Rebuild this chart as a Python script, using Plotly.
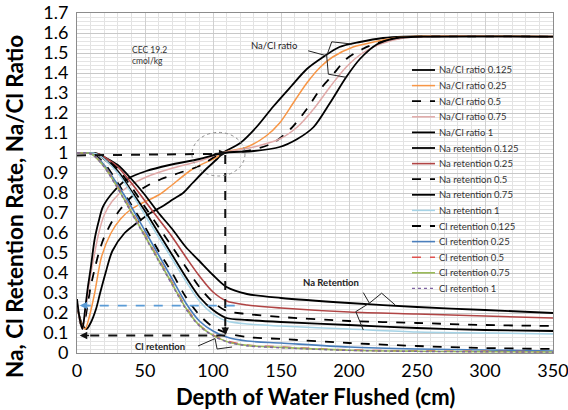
import plotly.graph_objects as go

# ---------------- data ----------------
# Na/Cl ratio curves (x = depth of water flushed, cm)
ratio_0125_x = [0, 4, 7, 10, 14, 17, 21, 26, 35, 44, 54, 62, 71, 78, 85, 95, 103, 107, 120, 132, 144, 157, 169, 181, 193, 208, 225, 240, 350]
ratio_0125_y = [0.23, 0.14, 0.12, 0.15, 0.22, 0.30, 0.40, 0.51, 0.60, 0.65, 0.70, 0.73, 0.77, 0.80, 0.85, 0.92, 0.97, 1.00, 1.05, 1.13, 1.23, 1.33, 1.42, 1.48, 1.53, 1.555, 1.575, 1.582, 1.582]

ratio_025_x = [0, 3, 6, 9, 13, 18, 25, 32, 40, 48, 60, 68, 85, 103, 107, 125, 139, 149, 159, 169, 179, 188, 203, 218, 240, 350]
ratio_025_y = [0.24, 0.15, 0.12, 0.18, 0.30, 0.48, 0.60, 0.67, 0.72, 0.75, 0.79, 0.83, 0.92, 0.98, 1.00, 1.03, 1.085, 1.15, 1.25, 1.35, 1.43, 1.48, 1.53, 1.555, 1.58, 1.582]

ratio_05_x = [0, 2, 4, 6, 8, 10, 13, 16, 20, 26, 32, 40, 50, 62, 75, 90, 107, 125, 144, 157, 169, 179, 188, 198, 210, 221, 238, 255, 350]
ratio_05_y = [0.25, 0.16, 0.13, 0.17, 0.25, 0.33, 0.42, 0.50, 0.58, 0.66, 0.72, 0.78, 0.83, 0.87, 0.90, 0.935, 1.00, 1.01, 1.05, 1.12, 1.22, 1.32, 1.39, 1.47, 1.52, 1.55, 1.575, 1.582, 1.582]

ratio_075_x = [0, 2, 4, 6, 8, 10, 13, 16, 20, 26, 37, 51, 68, 90, 107, 130, 149, 162, 174, 186, 198, 210, 223, 240, 258, 350]
ratio_075_y = [0.26, 0.16, 0.12, 0.20, 0.30, 0.39, 0.50, 0.60, 0.69, 0.76, 0.83, 0.88, 0.92, 0.96, 1.00, 1.03, 1.07, 1.13, 1.22, 1.33, 1.43, 1.50, 1.545, 1.575, 1.582, 1.582]

ratio_1_x = [0, 2, 4, 6, 8, 10, 13, 16, 19, 26, 37, 51, 68, 90, 107, 130, 149, 162, 174, 186, 198, 208, 221, 235, 255, 350]
ratio_1_y = [0.27, 0.17, 0.12, 0.22, 0.33, 0.42, 0.57, 0.66, 0.73, 0.80, 0.87, 0.91, 0.94, 0.97, 1.00, 1.01, 1.03, 1.07, 1.13, 1.25, 1.38, 1.47, 1.545, 1.575, 1.582, 1.582]

# Retention curves share one depth grid
ret_x = [0, 8, 12, 16, 20, 30, 40, 50, 60, 70, 80, 90, 100, 110, 125, 150, 200, 250, 300, 350]

na_ret_0125 = [1, 1, 1, 0.995, 0.98, 0.94, 0.87, 0.79, 0.70, 0.62, 0.53, 0.46, 0.39, 0.33, 0.295, 0.275, 0.25, 0.23, 0.215, 0.20]
na_ret_025 = [1, 1, 1, 0.995, 0.98, 0.93, 0.85, 0.76, 0.67, 0.58, 0.48, 0.385, 0.305, 0.26, 0.24, 0.225, 0.205, 0.195, 0.185, 0.175]
na_ret_05 = [1, 1, 1, 0.99, 0.975, 0.92, 0.83, 0.73, 0.63, 0.53, 0.43, 0.33, 0.255, 0.21, 0.195, 0.18, 0.16, 0.15, 0.14, 0.135]
na_ret_075 = [1, 1, 1, 0.99, 0.97, 0.91, 0.81, 0.71, 0.60, 0.49, 0.38, 0.28, 0.215, 0.175, 0.165, 0.155, 0.14, 0.125, 0.115, 0.11]
na_ret_1 = [1, 1, 1, 0.99, 0.97, 0.90, 0.80, 0.69, 0.58, 0.47, 0.36, 0.26, 0.195, 0.16, 0.145, 0.135, 0.12, 0.105, 0.10, 0.095]

cl_ret_0125 = [1, 1, 0.995, 0.975, 0.95, 0.85, 0.74, 0.63, 0.51, 0.40, 0.28, 0.19, 0.13, 0.10, 0.08, 0.07, 0.05, 0.035, 0.025, 0.02]
cl_ret_025 = [1, 1, 0.99, 0.97, 0.94, 0.84, 0.73, 0.61, 0.49, 0.37, 0.25, 0.16, 0.11, 0.08, 0.06, 0.05, 0.03, 0.02, 0.015, 0.01]
cl_ret_05 = [1, 1, 0.99, 0.965, 0.935, 0.83, 0.71, 0.59, 0.47, 0.35, 0.23, 0.14, 0.09, 0.06, 0.04, 0.03, 0.015, 0.01, 0.008, 0.006]
cl_ret_075 = [1, 1, 0.99, 0.963, 0.932, 0.825, 0.705, 0.585, 0.465, 0.345, 0.225, 0.138, 0.088, 0.058, 0.038, 0.028, 0.014, 0.009, 0.007, 0.005]
cl_ret_1 = [1, 1, 0.99, 0.962, 0.93, 0.822, 0.70, 0.58, 0.46, 0.34, 0.22, 0.135, 0.086, 0.056, 0.036, 0.026, 0.013, 0.008, 0.006, 0.004]

x_ticks = [0, 50, 100, 150, 200, 250, 300, 350]

# ---------------- styles ----------------
FONT = "Lato"
series = [
    ("Na/Cl ratio 0.125", ratio_0125_x, ratio_0125_y, "#000000", "solid", 1.8),
    ("Na/Cl ratio 0.25", ratio_025_x, ratio_025_y, "#F79646", "solid", 1.5),
    ("Na/Cl ratio 0.5", ratio_05_x, ratio_05_y, "#000000", "dash", 1.8),
    ("Na/Cl ratio 0.75", ratio_075_x, ratio_075_y, "#E0A9A8", "solid", 1.5),
    ("Na/Cl ratio 1", ratio_1_x, ratio_1_y, "#000000", "solid", 1.8),
    ("Na retention 0.125", ret_x, na_ret_0125, "#000000", "solid", 1.8),
    ("Na retention 0.25", ret_x, na_ret_025, "#B04444", "solid", 1.6),
    ("Na retention 0.5", ret_x, na_ret_05, "#000000", "dash", 1.8),
    ("Na retention 0.75", ret_x, na_ret_075, "#000000", "solid", 1.8),
    ("Na retention 1", ret_x, na_ret_1, "#A5D3E6", "solid", 1.5),
    ("Cl retention 0.125", ret_x, cl_ret_0125, "#000000", "dash", 1.8),
    ("Cl retention 0.25", ret_x, cl_ret_025, "#4A7EBB", "solid", 1.6),
    ("Cl retention 0.5", ret_x, cl_ret_05, "#E0524F", "dash", 1.6),
    ("Cl retention 0.75", ret_x, cl_ret_075, "#9BBB59", "solid", 1.6),
    ("Cl retention 1", ret_x, cl_ret_1, "#8064A2", "dot", 1.4),
]

fig = go.Figure()
for name, xs, ys, color, dash, width in series:
    fig.add_trace(go.Scatter(
        x=xs, y=ys, name=name, mode="lines", showlegend=False,
        line=dict(color=color, dash=dash, width=width, shape="spline", smoothing=0.8),
    ))

# ---------------- plot-area geometry (pixels) ----------------
PL, PR, PT, PB = 77, 553, 13, 353
def px_x(p):
    return (p - PL) / (PR - PL)
def px_y(p):
    return (PB - p) / (PB - PT)

# ---------------- callouts ----------------
ann_line = dict(color="#222222", width=1)
shapes = []
for seg in [((170, 1.511), (183.6, 1.486)), ((183.6, 1.486), (187.3, 1.556)), ((187.3, 1.556), (202, 1.545)),
            ((183.6, 1.486), (184.8, 1.394)), ((184.8, 1.394), (198.3, 1.378))]:
    shapes.append(dict(type="line", xref="x", yref="y", x0=seg[0][0], y0=seg[0][1], x1=seg[1][0], y1=seg[1][1], line=ann_line))
for seg in [((210.5, 0.302), (215, 0.249)), ((215, 0.249), (224, 0.299)), ((224, 0.299), (233.8, 0.241)),
            ((215, 0.249), (205, 0.207)), ((205, 0.207), (210.5, 0.115))]:
    shapes.append(dict(type="line", xref="x", yref="y", x0=seg[0][0], y0=seg[0][1], x1=seg[1][0], y1=seg[1][1], line=ann_line))
for seg in [((89, 0.035), (101.5, 0.072)), ((101.5, 0.072), (103, 0.02)), ((103, 0.02), (114, 0.03))]:
    shapes.append(dict(type="line", xref="x", yref="y", x0=seg[0][0], y0=seg[0][1], x1=seg[1][0], y1=seg[1][1], line=ann_line))
dash_black = dict(color="#111111", width=2, dash="dash")
shapes.append(dict(type="line", xref="x", yref="y", x0=0, y0=0.988, x1=105, y1=0.996, line=dash_black))
shapes.append(dict(type="line", xref="x", yref="y", x0=109, y0=0.99, x1=109, y1=0.12, line=dash_black))
shapes.append(dict(type="line", xref="x", yref="y", x0=109, y0=0.088, x1=6, y1=0.088, line=dash_black))
shapes.append(dict(type="line", xref="x", yref="y", x0=116, y0=0.237, x1=6, y1=0.237,
                   line=dict(color="#5B9BD5", width=1.8, dash="dash")))
shapes.append(dict(type="circle", xref="x", yref="y", x0=84.5, y0=0.885, x1=123.5, y1=1.103,
                   line=dict(color="#8C8C8C", width=1, dash="dot")))

annotations = [
    dict(x=39, y=1.49, text="CEC 19.2<br>cmol/kg", showarrow=False, xanchor="left", align="left",
         font=dict(family=FONT, size=8.5, color="#333333")),
    dict(x=145, y=1.54, text="Na/Cl ratio", showarrow=False, font=dict(family=FONT, size=9.5, color="#222222")),
    dict(x=187, y=0.352, text="<b>Na Retention</b>", showarrow=False, font=dict(family=FONT, size=9.5, color="#222222")),
    dict(x=61, y=0.035, text="<b>Cl retention</b>", showarrow=False, font=dict(family=FONT, size=9.5, color="#222222")),
    dict(x=110, y=1.0, ax=100, ay=0.996, axref="x", ayref="y", xref="x", yref="y", text="", showarrow=True,
         arrowhead=2, arrowsize=1, arrowwidth=1.5, arrowcolor="#111111"),
    dict(x=109, y=0.09, ax=109, ay=0.14, axref="x", ayref="y", xref="x", yref="y", text="", showarrow=True,
         arrowhead=2, arrowsize=1, arrowwidth=1.5, arrowcolor="#111111"),
    dict(x=2, y=0.088, ax=10, ay=0.088, axref="x", ayref="y", xref="x", yref="y", text="", showarrow=True,
         arrowhead=2, arrowsize=1, arrowwidth=1.5, arrowcolor="#111111"),
    dict(x=2, y=0.237, ax=10, ay=0.237, axref="x", ayref="y", xref="x", yref="y", text="", showarrow=True,
         arrowhead=2, arrowsize=1, arrowwidth=1.5, arrowcolor="#5B9BD5"),
    # axis titles (positioned as in the original layout)
    dict(xref="paper", yref="paper", x=px_x(315), y=px_y(396), text="<b>Depth of Water Flushed (cm)</b>",
         showarrow=False, xanchor="center", yanchor="middle", font=dict(family=FONT, size=22, color="#000000")),
    dict(xref="paper", yref="paper", x=px_x(14), y=px_y(207), text="<b>Na, Cl Retention Rate, Na/Cl Ratio</b>",
         showarrow=False, textangle=-90, xanchor="center", yanchor="middle",
         font=dict(family=FONT, size=22.5, color="#000000")),
]

# ---------------- compact legend (Excel-style spacing) ----------------
LEG_X0, LEG_X1, LEG_TX, LEG_Y0, LEG_DY = 412, 435, 437, 70, 15.6
for i, (name, _, _, color, dash, width) in enumerate(series):
    yy = px_y(LEG_Y0 + i * LEG_DY)
    shapes.append(dict(type="line", xref="paper", yref="paper", x0=px_x(LEG_X0), x1=px_x(LEG_X1), y0=yy, y1=yy,
                       line=dict(color=color, dash=dash, width=width)))
    annotations.append(dict(xref="paper", yref="paper", x=px_x(LEG_TX), y=yy, text=name, showarrow=False,
                            xanchor="left", yanchor="middle", font=dict(family=FONT, size=9.5, color="#333333")))

fig.update_layout(
    width=568, height=410,
    margin=dict(l=PL, r=568 - PR, t=PT, b=410 - PB, autoexpand=False),
    paper_bgcolor="white", plot_bgcolor="white",
    font=dict(family=FONT, color="#000000"),
    shapes=shapes, annotations=annotations,
    showlegend=False,
)
fig.update_xaxes(
    range=[0, 350], tickvals=x_ticks, showline=True, mirror=True, linecolor="#8C8C8C", linewidth=1,
    showgrid=True, gridcolor="#D0D0D0", gridwidth=1,
    minor=dict(dtick=10, showgrid=True, gridcolor="#E2E2E2", gridwidth=1),
    tickfont=dict(family=FONT, size=18), ticks="", ticklabelstandoff=1, zeroline=False,
    ticklabeloverflow="allow",
)
fig.update_yaxes(
    range=[0, 1.7], dtick=0.1, tick0=0, showline=True, mirror=True, linecolor="#8C8C8C", linewidth=1,
    showgrid=True, gridcolor="#C8C8C8", gridwidth=1,
    minor=dict(dtick=0.02, showgrid=True, gridcolor="#E4E4E4", gridwidth=1),
    tickfont=dict(family=FONT, size=18), ticks="", ticklabelstandoff=4, zeroline=False,
    ticklabeloverflow="allow",
)

fig.write_html("out.html")
